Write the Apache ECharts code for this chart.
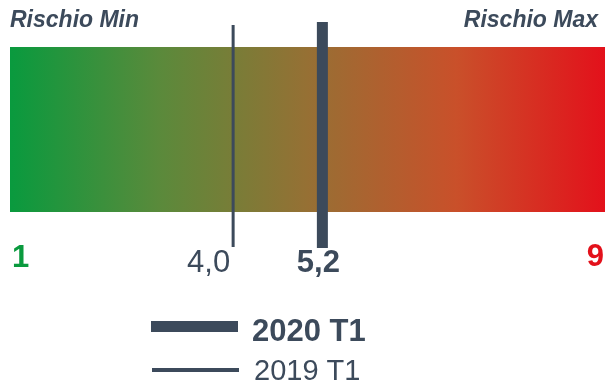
<!DOCTYPE html>
<html><head><meta charset="utf-8">
<script src="https://cdn.jsdelivr.net/npm/echarts@6/dist/echarts.min.js"></script>
<style>html,body{margin:0;padding:0;background:#fff}#c{width:615px;height:385px}</style>
</head><body><div id="c"></div>
<script>
// ---- data ----
const scaleEnds = [1, 9];
const endLabels = ['1', '9'];
const endColors = ['#0a9a3e', '#e3111b'];
const cornerLabels = ['Rischio Min', 'Rischio Max'];
const periods = ['2020 T1', '2019 T1'];
const values = [5.2, 4.0];
const valueLabels = ['5,2', '4,0'];

// ---- styles ----
const INK = '#3c4a5b';
const FONT = '"Liberation Sans", Arial, sans-serif';
// place text by baseline: ECharts 'top' alignment, baseline ~0.8*size below top
function topFor(baseline, size) { return baseline - Math.round(0.8 * size); }

const chart = echarts.init(document.getElementById('c'), null, {renderer: 'canvas'});

const option = {
  animation: false,
  grid: {left: 10, right: 10, top: 47, bottom: 173},
  xAxis: {type: 'value', min: scaleEnds[0], max: scaleEnds[1], show: false},
  yAxis: {type: 'value', min: 0, max: 1, show: false},
  series: [
    {
      type: 'custom',
      name: 'band',
      data: [[scaleEnds[0], scaleEnds[1]]],
      renderItem: function (params, api) {
        const p0 = api.coord([api.value(0), 1]);
        const p1 = api.coord([api.value(1), 0]);
        return {
          type: 'rect',
          shape: {x: p0[0], y: p0[1], width: p1[0] - p0[0], height: p1[1] - p0[1]},
          style: {
            fill: new echarts.graphic.LinearGradient(0, 0, 1, 0, [
              {offset: 0, color: '#099a3e'},
              {offset: 0.25, color: '#5a8a3b'},
              {offset: 0.5, color: '#967034'},
              {offset: 0.75, color: '#c9502a'},
              {offset: 1, color: '#e3111b'}
            ])
          }
        };
      }
    },
    {
      type: 'custom',
      name: 'ends',
      data: scaleEnds.map((v, i) => [v, i]),
      renderItem: function (params, api) {
        const i = params.dataIndex;
        const x = api.coord([api.value(0), 0])[0];
        return {
          type: 'text',
          style: {
            text: endLabels[i],
            x: x + (i === 0 ? 2 : -1),
            y: topFor(i === 0 ? 268 : 267, 31),
            align: i === 0 ? 'left' : 'right',
            verticalAlign: 'top',
            fill: endColors[i],
            font: 'bold 31px ' + FONT
          }
        };
      }
    },
    {
      type: 'custom',
      name: 'markers',
      data: values.map((v, i) => [v, i]),
      z: 5,
      renderItem: function (params, api) {
        const i = params.dataIndex;
        const x = api.coord([api.value(0), 0])[0];
        const yTop = api.coord([0, 1])[1];
        const yBot = api.coord([0, 0])[1];
        const thick = i === 0;
        const mark = thick
          ? {type: 'rect', shape: {x: x - 5.5, y: yTop - 25, width: 11, height: yBot - yTop + 61}, style: {fill: INK}}
          : {type: 'line', shape: {x1: x, y1: yTop - 22, x2: x, y2: yBot + 35}, style: {stroke: INK, lineWidth: 3}};
        const label = {
          type: 'text',
          style: {
            text: valueLabels[i],
            x: thick ? x - 4 : x - 3,
            y: topFor(273, 31),
            align: thick ? 'center' : 'right',
            verticalAlign: 'top',
            fill: INK,
            font: (thick ? 'bold ' : '') + '31px ' + FONT
          }
        };
        return {type: 'group', children: [mark, label]};
      }
    }
  ],
  graphic: [
    {type: 'text', x: 10, y: topFor(27, 23), style: {text: cornerLabels[0], fill: INK, font: 'italic bold 23px ' + FONT, verticalAlign: 'top'}},
    {type: 'text', x: 598, y: topFor(27, 23), style: {text: cornerLabels[1], fill: INK, font: 'italic bold 23px ' + FONT, verticalAlign: 'top', align: 'right'}},
    {type: 'rect', shape: {x: 151, y: 321, width: 87, height: 11}, style: {fill: INK}},
    {type: 'text', x: 252, y: topFor(342, 31), style: {text: periods[0], fill: INK, font: 'bold 31px ' + FONT, verticalAlign: 'top'}},
    {type: 'rect', shape: {x: 152, y: 368, width: 87, height: 4}, style: {fill: INK}},
    {type: 'text', x: 254, y: topFor(380, 29), style: {text: periods[1], fill: INK, font: '29px ' + FONT, verticalAlign: 'top'}}
  ]
};
chart.setOption(option);
</script>
</body></html>
